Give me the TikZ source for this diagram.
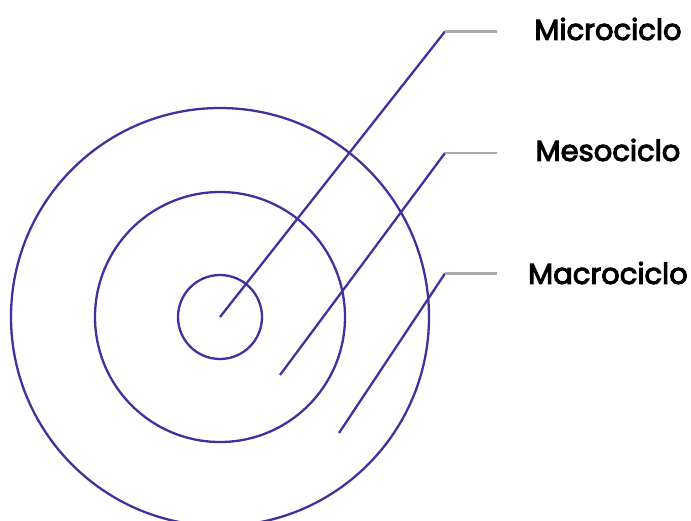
\documentclass[tikz,border=0pt]{standalone}
\usepackage{fontspec}
\setmainfont{Poppins}
\newfontfamily\lblfont{Poppins}[FakeBold=3.5]
\definecolor{ringpurple}{RGB}{64,48,160}
\definecolor{leadgray}{RGB}{170,170,170}
\begin{document}
\begin{tikzpicture}[x=1pt,y=-1pt,
  ring/.style={draw=ringpurple,line width=2.3pt},
  leader/.style={draw=ringpurple,line width=2.3pt},
  tail/.style={draw=leadgray,line width=2.2pt},
  lbl/.style={font=\lblfont\fontsize{29}{32}\selectfont,text=black,inner sep=0pt,anchor=center}]
\useasboundingbox (0,0) rectangle (691,521);
\clip (0,0) rectangle (691,521);
\coordinate (ctr) at (220,317);
\draw[ring] (ctr) circle[radius=42];
\draw[ring] (ctr) circle[radius=125];
\draw[ring] (ctr) circle[radius=209];
% anchors
\coordinate (p1) at (220,317);
\coordinate (p2) at (280,375);
\coordinate (p3) at (339,433);
\coordinate (k1) at (445,31.5);
\coordinate (k2) at (445,153);
\coordinate (k3) at (445,273.5);
\coordinate (e1) at (497,31.5);
\coordinate (e2) at (497,153);
\coordinate (e3) at (497,273.5);
\draw[leader] (p1) -- (k1);
\draw[leader] (p2) -- (k2);
\draw[leader] (p3) -- (k3);
\draw[tail] (k1) -- (e1);
\draw[tail] (k2) -- (e2);
\draw[tail] (k3) -- (e3);
\node[lbl] (t1) at (608,29) {Microciclo};
\node[lbl] (t2) at (608,150) {Mesociclo};
\node[lbl] (t3) at (608,273) {Macrociclo};
\end{tikzpicture}
\end{document}
